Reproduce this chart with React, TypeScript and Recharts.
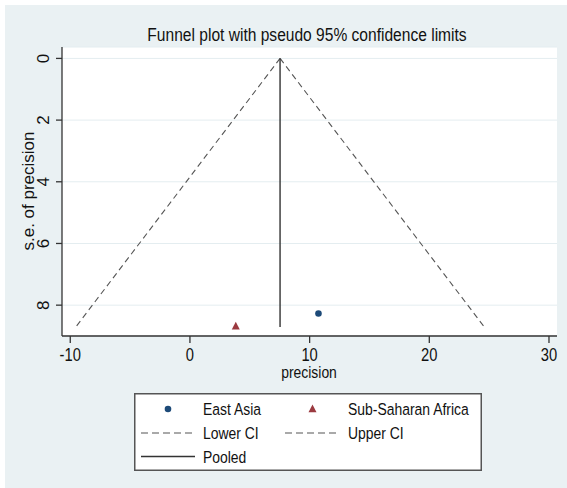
import React from "react";
import { ScatterChart, Scatter, XAxis, YAxis, CartesianGrid, Legend } from "recharts";

const X_TICKS = [-10, 0, 10, 20, 30];
const Y_TICKS = [0, 2, 4, 6, 8];

// study points (precision, s.e. of precision)
const EAST_ASIA = [{ precision: 10.74, se: 8.27 }];
const SUB_SAHARAN = [{ precision: 3.83, se: 8.68 }];

// funnel lines
const LOWER_CI = [{ precision: 7.53, se: 0 }, { precision: -9.54, se: 8.71 }];
const UPPER_CI = [{ precision: 7.53, se: 0 }, { precision: 24.6, se: 8.71 }];
const POOLED = [{ precision: 7.53, se: 0 }, { precision: 7.53, se: 8.71 }];

const FONT = "'Liberation Sans', Arial, sans-serif";
const BLUE = "#1d4a78";
const RED = "#9b3a40";
const AXIS = "#333";
const DASH = "#555";
const INK = "#111";

// Stata draws its text in a condensed face; squeeze Liberation Sans horizontally
function NText({ x, y, size, anchor = "start", children }: any) {
  return (
    <text
      transform={`translate(${x} ${y}) scale(0.82 1)`}
      textAnchor={anchor}
      fontFamily={FONT}
      fontSize={size}
      fill={INK}
    >
      {children}
    </text>
  );
}

const NoPoint = () => <g />;

const Dot = (p: any) => <circle cx={p.cx} cy={p.cy} r={3.3} fill={BLUE} />;

const Tri = (p: any) => (
  <path d={`M${p.cx},${p.cy - 4.5} L${p.cx + 4},${p.cy + 3.3} L${p.cx - 4},${p.cy + 3.3} Z`} fill={RED} />
);

const XTick = (p: any) => (
  <NText x={p.x} y={p.y + 16} size={18} anchor="middle">
    {p.payload.value}
  </NText>
);

const YTick = (p: any) => {
  const x = p.x - 5;
  return (
    <text x={x} y={p.y} transform={`rotate(-90 ${x} ${p.y})`} textAnchor="middle" fontFamily={FONT} fontSize={17} fill={INK}>
      {p.payload.value}
    </text>
  );
};

function LegendBox() {
  return (
    <svg width={348} height={78} style={{ display: "block" }}>
      <rect x={0.75} y={0.75} width={346.5} height={76.5} fill="#fff" stroke="#555" strokeWidth={1.5} />
      <circle cx={34} cy={16} r={3.3} fill={BLUE} />
      <NText x={69} y={22} size={17}>East Asia</NText>
      <path d="M178.5,11.5 L182.5,19.3 L174.5,19.3 Z" fill={RED} />
      <NText x={214} y={22} size={17}>Sub-Saharan Africa</NText>
      <line x1={7} y1={40} x2={61} y2={40} stroke={DASH} strokeWidth={1.2} strokeDasharray="7 4" />
      <NText x={69} y={46} size={17}>Lower CI</NText>
      <line x1={151} y1={40} x2={205} y2={40} stroke={DASH} strokeWidth={1.2} strokeDasharray="7 4" />
      <NText x={214} y={46} size={17}>Upper CI</NText>
      <line x1={7} y1={63.5} x2={61} y2={63.5} stroke="#333" strokeWidth={1.3} />
      <NText x={69} y={69.5} size={17}>Pooled</NText>
    </svg>
  );
}

export default function App() {
  return (
    <div style={{ position: "absolute", left: 0, top: 0, width: 567, height: 488, background: "#fff" }}>
      <div style={{ position: "absolute", left: 5, top: 5, width: 562, height: 483, background: "#eaf1f3" }} />
      <div style={{ position: "absolute", left: 0, top: 0 }}>
        <ScatterChart width={567} height={488} margin={{ top: 47, right: 10, bottom: 112, left: 0 }}>
          <CartesianGrid vertical={false} horizontal stroke="#e4edf0" fill="#fff" />
          <XAxis
            type="number"
            dataKey="precision"
            domain={[-10.69, 30.67]}
            ticks={X_TICKS}
            allowDataOverflow
            height={40}
            tickSize={7}
            stroke={AXIS}
            strokeWidth={1.3}
            tick={<XTick />}
            label={{
              content: () => (
                <NText x={309} y={378} size={17} anchor="middle">precision</NText>
              ),
            }}
          />
          <YAxis
            type="number"
            dataKey="se"
            reversed
            domain={[-0.37, 9.0]}
            ticks={Y_TICKS}
            allowDataOverflow
            width={62}
            tickSize={6}
            stroke={AXIS}
            strokeWidth={1.3}
            tick={<YTick />}
            label={{
              content: () => (
                <text x={34} y={191} transform="rotate(-90 34 191)" textAnchor="middle" fontFamily={FONT} fontSize={17} fill={INK}>
                  s.e. of precision
                </text>
              ),
            }}
          />
          <Scatter name="Lower CI" data={LOWER_CI} line={{ stroke: DASH, strokeWidth: 1.1, strokeDasharray: "6 4" }} shape={NoPoint} isAnimationActive={false} />
          <Scatter name="Upper CI" data={UPPER_CI} line={{ stroke: DASH, strokeWidth: 1.1, strokeDasharray: "6 4" }} shape={NoPoint} isAnimationActive={false} />
          <Scatter name="Pooled" data={POOLED} line={{ stroke: "#333", strokeWidth: 1.4 }} shape={NoPoint} isAnimationActive={false} />
          <Scatter name="East Asia" data={EAST_ASIA} shape={Dot} isAnimationActive={false} />
          <Scatter name="Sub-Saharan Africa" data={SUB_SAHARAN} shape={Tri} isAnimationActive={false} />
          <Legend
            layout="horizontal"
            verticalAlign="middle"
            align="center"
            wrapperStyle={{ left: 134, top: 393, width: 348, height: 78 }}
            content={() => <LegendBox />}
          />
        </ScatterChart>
      </div>
      <svg width={567} height={60} style={{ position: "absolute", left: 0, top: 0, pointerEvents: "none" }}>
        <NText x={307} y={41} size={19} anchor="middle">
          Funnel plot with pseudo 95% confidence limits
        </NText>
      </svg>
    </div>
  );
}
